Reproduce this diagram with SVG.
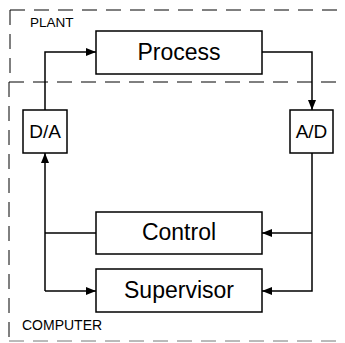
<svg xmlns="http://www.w3.org/2000/svg" width="345" height="343" viewBox="0 0 345 343">
<defs>
<style>
.region{fill:none;stroke:#000;stroke-width:1;stroke-dasharray:15 9}
.box{fill:#fff;stroke:#000;stroke-width:1.5}
.wire{fill:none;stroke:#000;stroke-width:1.5}
.big{font-family:"Liberation Sans",Arial,sans-serif;font-size:23px;text-anchor:middle;fill:#000}
.mid{font-family:"Liberation Sans",Arial,sans-serif;font-size:19px;text-anchor:middle;fill:#000}
.lbl{font-family:"Liberation Sans",Arial,sans-serif;font-size:13.5px;fill:#000}
</style>
<marker id="arr" viewBox="0 0 10 8" refX="10" refY="4" markerWidth="10" markerHeight="8" markerUnits="userSpaceOnUse" orient="auto">
<path d="M0,0 L10,4 L0,8 Z" fill="#000"/>
</marker>
</defs>
<g id="regions">
<path class="region" d="M10,10 H345 M10,10 V82 M9,82 H345 M9,82 V340"/>
<path class="region" style="stroke:#777" d="M9,341 H345"/>
<text class="lbl" x="30" y="27">PLANT</text>
<text class="lbl" style="font-size:14px" x="22" y="330">COMPUTER</text>
</g>
<g id="connectors">
<path class="wire" d="M45,110 V52 H96" marker-end="url(#arr)"/>
<path class="wire" d="M262,52 H312 V110" marker-end="url(#arr)"/>
<path class="wire" d="M312,153 V291 H262" marker-end="url(#arr)"/>
<path class="wire" d="M312,233 H262" marker-end="url(#arr)"/>
<path class="wire" d="M96,233 H45"/>
<path class="wire" d="M45,291 V153" marker-end="url(#arr)"/>
<path class="wire" d="M45,291 H96" marker-end="url(#arr)"/>
</g>
<g id="process"><rect class="box" x="96" y="31" width="166" height="43"/><text class="big" x="179" y="60">Process</text></g>
<g id="da"><rect class="box" x="23" y="110" width="44" height="43"/><text class="mid" x="45" y="138">D/A</text></g>
<g id="ad"><rect class="box" x="290" y="110" width="43" height="43"/><text class="mid" x="311.5" y="138">A/D</text></g>
<g id="control"><rect class="box" x="96" y="212" width="166" height="42"/><text class="big" x="179" y="240">Control</text></g>
<g id="supervisor"><rect class="box" x="96" y="269" width="166" height="43"/><text class="big" x="179" y="298">Supervisor</text></g>
</svg>
